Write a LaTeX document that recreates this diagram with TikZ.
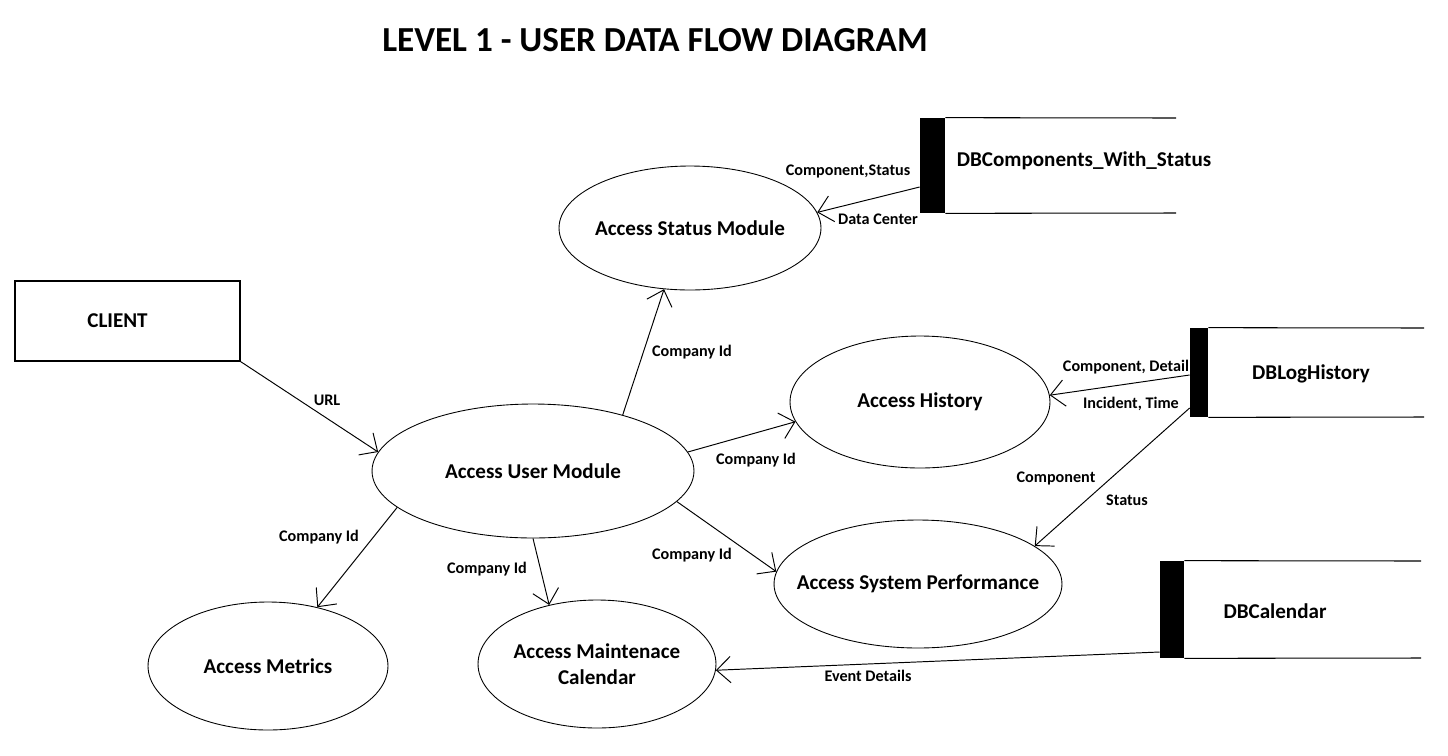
\documentclass[tikz,border=0pt]{standalone}
\usepackage{fontspec}
\setmainfont{Carlito}
\usetikzlibrary{arrows.meta,shapes.geometric,calc}

\tikzset{
    procfont/.style={font=\bfseries\fontsize{12}{14.5}\selectfont, align=center},
    process/.style={draw, ellipse, inner sep=0pt, line width=0.5pt,
                    label={[procfont]center:#1}},
    entity/.style={draw, rectangle, line width=0.6pt,
                    label={[procfont, xshift=-0.2cm]center:#1}},
    storebar/.style={fill=black, rectangle, inner sep=0pt},
    storetext/.style={font=\bfseries\fontsize{12}{14.5}\selectfont},
    flow/.style={-{Straight Barb[length=8pt,width=15pt]}, line width=0.55pt},
    flowlabel/.style={font=\bfseries\fontsize{9.2}{11}\selectfont, inner sep=0pt}
}

\begin{document}
\begin{tikzpicture}[x=0.02cm,y=-0.02cm]
                \useasboundingbox (0,0) rectangle (1448,755);

                \node [font=\bfseries\fontsize{20}{24}\selectfont] (title) at (655,40)
                            {LEVEL 1 - USER DATA FLOW DIAGRAM};

                % external entity
                \node [entity=CLIENT, minimum width=4.5cm, minimum height=1.6cm] (client) at (127.5,321) {};

                % processes
                \node [process=Access Status Module, minimum width=5.24cm, minimum height=2.48cm] (status) at (690,228) {};
                \node [process=Access History, minimum width=5.2cm, minimum height=2.64cm] (history) at (920,402) {};
                \node [process=Access User Module, minimum width=6.44cm, minimum height=2.68cm] (user) at (533,471) {};
                \node [process=Access System Performance, minimum width=5.76cm, minimum height=2.56cm] (sysperf) at (918,584) {};
                \node [process=Access Metrics, minimum width=4.8cm, minimum height=2.56cm] (metrics) at (268,666) {};
                \node [process={Access Maintenace\\Calendar}, minimum width=4.76cm, minimum height=2.56cm] (maint) at (597,664) {};

                % data stores
                \node [storebar, minimum width=0.5cm, minimum height=1.9cm] (dbcompbar) at (932.5,165.5) {};
                \draw [line width=0.6pt] (dbcompbar.north east) -- (1176,118);
                \draw [line width=0.6pt] (dbcompbar.south east) -- (1176,213);
                \node [storetext] (dbcomp) at (1084,161) {DBComponents\_With\_Status};

                \node [storebar, minimum width=0.36cm, minimum height=1.78cm] (dbloghistbar) at (1199,372.5) {};
                \draw [line width=0.6pt] (dbloghistbar.north east) -- (1424,328);
                \draw [line width=0.6pt] (dbloghistbar.south east) -- (1424,417);
                \node [storetext] (dbloghist) at (1311,374) {DBLogHistory};

                \node [storebar, minimum width=0.48cm, minimum height=1.94cm] (dbcalbar) at (1172,609.5) {};
                \draw [line width=0.6pt] (dbcalbar.north east) -- (1421,561);
                \draw [line width=0.6pt] (dbcalbar.south east) -- (1421,658);
                \node [storetext] (dbcal) at (1275,611) {DBCalendar};

                % flows
                \draw [flow] (client.south east) -- (user.173);
                \draw [flow] (user.32) -- (status.247);
                \draw [flow] (user.7.5) -- (history.189.6);
                \draw [flow] (user.-12) -- (sysperf.175);
                \draw [flow] (user.-90) -- (maint.129);
                \draw [flow] (user.195.5) -- (metrics.50);
                \draw [flow] ($(dbcompbar.west)+(0,21.5)$) -- (status.7);
                \draw [flow] ($(dbloghistbar.west)+(0,2.5)$) -- (history.3.7);
                \draw [flow] ($(dbloghistbar.west)+(0,35.5)$) -- (sysperf.18);
                \draw [flow] ($(dbcalbar.west)+(0,42.5)$) -- (maint.-3.6);

                % flow labels
                \node [flowlabel] (lurl) at (327,400) {URL};
                \node [flowlabel] (lstatus) at (692,352) {Company Id};
                \node [flowlabel] (lhistory) at (756,460) {Company Id};
                \node [flowlabel] (lsysperf) at (692,555) {Company Id};
                \node [flowlabel] (lmaint) at (487,569) {Company Id};
                \node [flowlabel] (lmetrics) at (319,537) {Company Id};
                \node [flowlabel] (lcompstat) at (848,171) {Component,Status};
                \node [flowlabel] (ldatacenter) at (878,219) {Data Center};
                \node [flowlabel] (lcompdetail) at (1126,367) {Component, Detail};
                \node [flowlabel] (lincident) at (1131,404) {Incident, Time};
                \node [flowlabel] (lcomponent) at (1056,478) {Component};
                \node [flowlabel] (lperfstatus) at (1127,500) {Status};
                \node [flowlabel] (levent) at (868,676) {Event Details};
\end{tikzpicture}
\end{document}
